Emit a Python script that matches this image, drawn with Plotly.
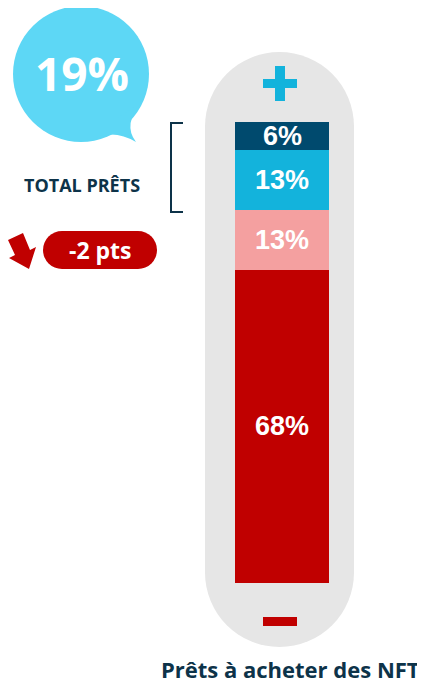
import plotly.graph_objects as go

# the page body adds an 8px margin, so the figure is drawn 8px in and shifted back
OFF = 8
W, H = 425 - OFF, 688 - OFF

# stacked from bottom to top
segments = ["Très peu probable", "Peu probable", "Assez probable", "Très probable"]
values = [68, 13, 13, 6]
colors = ["#c00000", "#f4a0a0", "#13b3dc", "#004a6e"]
category = ["Prêts à acheter des NFT"]

total_label = "19%"
total_text = "TOTAL PRÊTS"
change_label = "-2 pts"
title_text = "Prêts à acheter des NFT"

NAVY = "#0d3349"


def px(x):
    return (x - OFF) / W


def py(y):
    return 1 - (y - OFF) / H


fig = go.Figure()

for name, v, c in zip(segments, values, colors):
    fig.add_trace(go.Bar(
        x=category, y=[v], name=name, marker=dict(color=c, line=dict(width=0)),
        hoverinfo="skip",
    ))

# segment labels at the middle of each stacked block
annotations = []
cum = 0
for v in values:
    annotations.append(dict(
        x=category[0], y=cum + v / 2, xref="x", yref="y", text=f"<b>{v}%</b>",
        showarrow=False, xanchor="center", yanchor="middle",
        font=dict(family="Liberation Sans, Arial", size=27, color="white"),
    ))
    cum += v

shapes = []


def rect(x0, y0, x1, y1, color, layer="below"):
    shapes.append(dict(type="rect", xref="paper", yref="paper", x0=px(x0), x1=px(x1),
                       y0=py(y1), y1=py(y0), fillcolor=color, line=dict(width=0), layer=layer))


def circle(cx, cy, r, color, layer="below"):
    shapes.append(dict(type="circle", xref="paper", yref="paper", x0=px(cx - r), x1=px(cx + r),
                       y0=py(cy + r), y1=py(cy - r), fillcolor=color, line=dict(width=0), layer=layer))


def path(points, color, closed=True, width=0, fill=True):
    d = "M " + " L ".join(f"{px(x):.5f},{py(y):.5f}" for x, y in points)
    if closed:
        d += " Z"
    shapes.append(dict(type="path", xref="paper", yref="paper", path=d,
                       fillcolor=color if fill else "rgba(0,0,0,0)",
                       line=dict(color=color, width=width)))


# grey thermometer capsule
circle(279.5, 126.5, 74.5, "#e6e6e6")
circle(279.5, 572.5, 74.5, "#e6e6e6")
rect(205, 126.5, 354, 572.5, "#e6e6e6")

# plus / minus
rect(263, 79, 297, 88, "#13b3dc", "above")
rect(275, 66, 285, 101, "#13b3dc", "above")
rect(263, 617, 297, 626, "#c00000", "above")

# speech bubble
circle(81, 74, 68, "#5dd7f5")
shapes.append(dict(type="path", xref="paper", yref="paper",
                   path=(f"M {px(118):.5f},{py(118):.5f} L {px(143):.5f},{py(100):.5f} "
                         f"Q {px(122):.5f},{py(124):.5f} {px(136):.5f},{py(142):.5f} "
                         f"Q {px(118):.5f},{py(131):.5f} {px(100):.5f},{py(136):.5f} Z"),
                   fillcolor="#5dd7f5", line=dict(width=0)))

# bracket
path([(183, 123), (171, 123), (171, 212), (183, 212)], NAVY, closed=False, width=2, fill=False)

# change pill
circle(62, 250, 19, "#c00000")
circle(138, 250, 19, "#c00000")
rect(62, 231, 138, 269, "#c00000")

# down arrow
path([(8, 240), (23, 233), (30, 250), (36, 247), (29, 269), (9, 258), (15, 255)], "#c00000")


def label(x, y, text, size, color, family="Open Sans"):
    annotations.append(dict(x=px(x), y=py(y), xref="paper", yref="paper", text=f"<b>{text}</b>",
                            showarrow=False, xanchor="center", yanchor="middle",
                            font=dict(family=family, size=size, color=color)))


label(82, 73, total_label, 46, "white")
label(82, 185, total_text, 18, NAVY)
label(100, 250, change_label, 23, "white")
label(290, 669, title_text, 22, NAVY)

fig.update_layout(
    width=W, height=H, margin=dict(l=0, r=0, t=0, b=0),
    paper_bgcolor="white", plot_bgcolor="rgba(0,0,0,0)",
    barmode="stack", bargap=0, showlegend=False,
    xaxis=dict(domain=[px(235), px(329)], visible=False, fixedrange=True),
    yaxis=dict(domain=[py(583), py(122)], range=[0, 100], visible=False, fixedrange=True),
    shapes=shapes, annotations=annotations,
)

fig.write_html("out.html")
